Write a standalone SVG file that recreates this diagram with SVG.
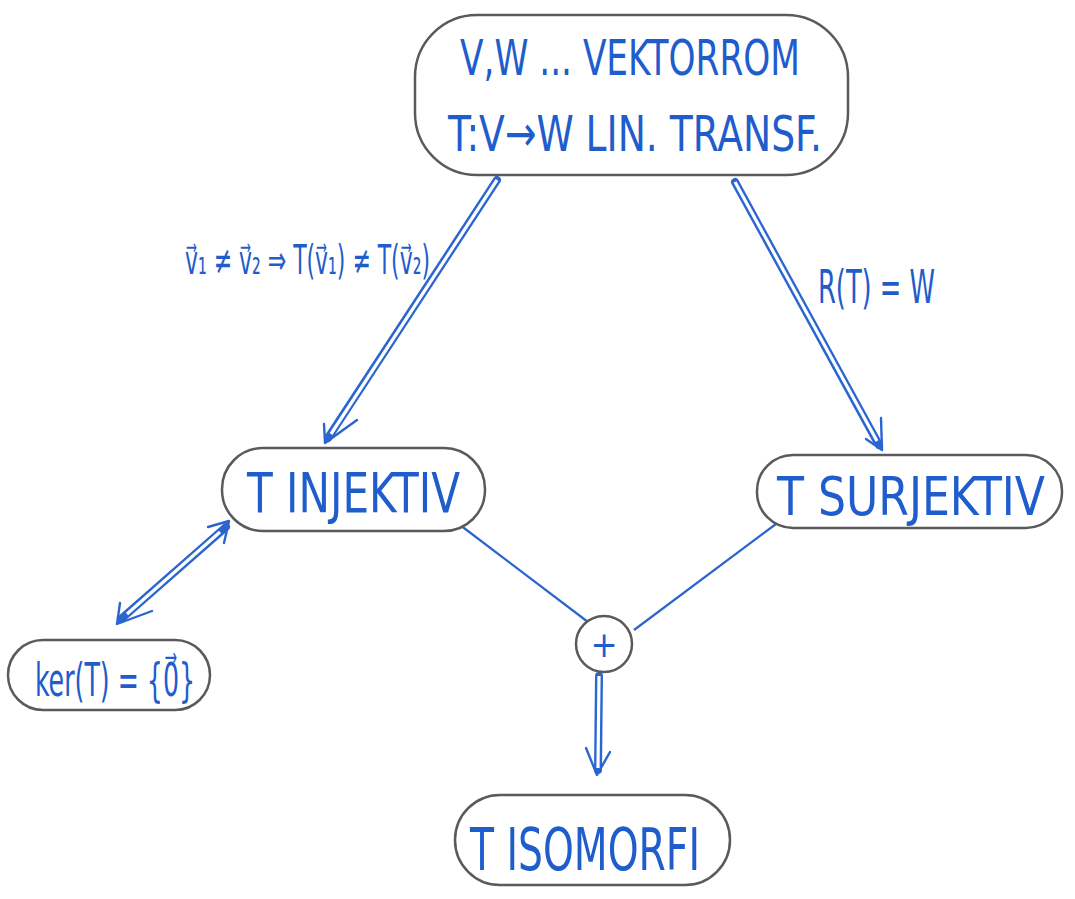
<svg xmlns="http://www.w3.org/2000/svg" width="1075" height="899" viewBox="0 0 1075 899">
<style>
.node{fill:#fff;stroke:#5a5a5a;stroke-width:2.5}
.t{fill:#1f5ccc;font-family:"DejaVu Sans Condensed","DejaVu Sans","Liberation Sans",sans-serif}
.dbl{fill:none;stroke:#2a65d0;stroke-width:8;stroke-linecap:round}
.dblin{fill:none;stroke:#fff;stroke-width:3.2;stroke-linecap:butt}
.sgl{fill:none;stroke:#2a65d0;stroke-width:2.2}
.head{fill:none;stroke:#2a65d0;stroke-width:2.4;stroke-linecap:round;stroke-linejoin:round}
</style>
<rect width="1075" height="899" fill="#fff"/>
<g id="connectors">
  <line class="dbl" x1="497" y1="180" x2="328" y2="438"/>
  <line class="dblin" x1="497" y1="180" x2="331" y2="434"/>
  <polyline class="head" points="324,424 325,443 357,420"/>
  <line class="dbl" x1="735" y1="182" x2="879" y2="445"/>
  <line class="dblin" x1="735" y1="182" x2="877" y2="441"/>
  <polyline class="head" points="866,439 882,450 881,418"/>
  <line class="dbl" x1="226" y1="527" x2="121" y2="619"/>
  <line class="dblin" x1="220" y1="532" x2="127" y2="614"/>
  <polyline class="head" points="208,527 229,521 224,543"/>
  <polyline class="head" points="120,603 117,624 152,611"/>
  <line class="sgl" x1="460" y1="525" x2="588" y2="622"/>
  <line class="sgl" x1="776" y1="524" x2="634" y2="630"/>
  <line class="dbl" x1="599" y1="676" x2="598" y2="770"/>
  <line class="dblin" x1="599" y1="676" x2="598" y2="768"/>
  <polyline class="head" points="586,748 597,775 610,752"/>
</g>
<g id="n-top">
  <rect class="node" x="415" y="15" width="433" height="160" rx="62"/>
  <text class="t" x="460" y="75" font-size="50" textLength="340" lengthAdjust="spacingAndGlyphs">V,W ... VEKTORROM</text>
  <text class="t" x="448" y="151" font-size="50" textLength="374" lengthAdjust="spacingAndGlyphs">T:V→W LIN. TRANSF.</text>
</g>
<g id="n-injektiv">
  <rect class="node" x="222" y="448" width="263" height="83" rx="41"/>
  <text class="t" x="247" y="512" font-size="56" textLength="213" lengthAdjust="spacingAndGlyphs">T INJEKTIV</text>
</g>
<g id="n-surjektiv">
  <rect class="node" x="757" y="455" width="305" height="73" rx="36"/>
  <text class="t" x="777" y="515" font-size="54" textLength="268" lengthAdjust="spacingAndGlyphs">T SURJEKTIV</text>
</g>
<g id="n-ker">
  <rect class="node" x="8" y="640" width="202" height="70" rx="35"/>
  <text class="t" x="35" y="696" font-size="46" textLength="160" lengthAdjust="spacingAndGlyphs">ker(T) = {0⃗}</text>
</g>
<g id="n-plus">
  <circle class="node" cx="604" cy="644" r="28"/>
  <text class="t" x="604" y="657" font-size="36" text-anchor="middle">+</text>
</g>
<g id="n-isomorfi">
  <rect class="node" x="455" y="795" width="275" height="90" rx="45"/>
  <text class="t" x="470" y="870" font-size="58" textLength="230" lengthAdjust="spacingAndGlyphs">T ISOMORFI</text>
</g>
<g id="labels">
  <text class="t" x="185" y="274" font-size="40" textLength="245" lengthAdjust="spacingAndGlyphs">v⃗₁ ≠ v⃗₂ ⇒ T(v⃗₁) ≠ T(v⃗₂)</text>
  <text class="t" x="818" y="303" font-size="46" textLength="117" lengthAdjust="spacingAndGlyphs">R(T) = W</text>
</g>
</svg>
